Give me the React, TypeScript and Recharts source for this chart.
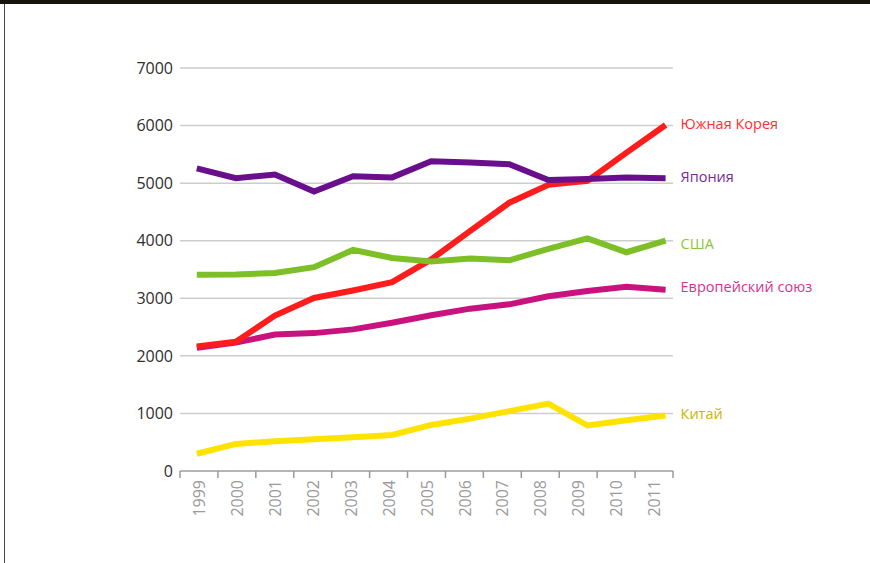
import { LineChart, Line, XAxis, YAxis, CartesianGrid } from 'recharts'

const YEARS = [1999, 2000, 2001, 2002, 2003, 2004, 2005, 2006, 2007, 2008, 2009, 2010, 2011]
const SOUTH_KOREA = [2165, 2245, 2700, 3005, 3135, 3280, 3675, 4170, 4660, 4970, 5040, 5530, 6010]
const JAPAN = [5255, 5085, 5150, 4855, 5120, 5100, 5380, 5360, 5330, 5055, 5070, 5100, 5085]
const USA = [3410, 3415, 3440, 3540, 3840, 3700, 3640, 3690, 3660, 3860, 4040, 3800, 4000]
const EU = [2140, 2230, 2370, 2395, 2460, 2575, 2705, 2820, 2895, 3035, 3125, 3200, 3150]
const CHINA = [300, 470, 515, 550, 585, 625, 800, 910, 1040, 1170, 790, 880, 965]
const Y_TICKS = [0, 1000, 2000, 3000, 4000, 5000, 6000, 7000]

const SERIES = [
  { key: 'eu', name: 'Европейский союз', values: EU, stroke: '#c8137f', text: '#d6338f', dy: -2.5 },
  { key: 'korea', name: 'Южная Корея', values: SOUTH_KOREA, stroke: '#ff1c1c', text: '#ff2f2f', dy: -1 },
  { key: 'usa', name: 'США', values: USA, stroke: '#7cbf27', text: '#8cc63e', dy: 3 },
  { key: 'japan', name: 'Япония', values: JAPAN, stroke: '#6a0f8c', text: '#7a2a92', dy: -1.5 },
  { key: 'china', name: 'Китай', values: CHINA, stroke: '#ffe300', text: '#c9b600', dy: -1.5 },
]

const data = YEARS.map((year, i) => {
  const row: Record<string, number | string> = { year: String(year), yearNum: year }
  SERIES.forEach((s) => { row[s.key] = s.values[i] })
  return row
})

// eslint-disable-next-line @typescript-eslint/no-explicit-any
const YearTick = (props: any) => {
  const { x, y, payload, index, visibleTicksCount } = props
  const half = payload && payload.offset > 5 ? payload.offset : 18.95
  const last = index === visibleTicksCount - 1
  const ty = y + 9
  return (
    <g>
      <line x1={x - half} x2={x - half} y1={y} y2={y + 7} stroke="#9a9a9a" strokeWidth={1.5} />
      {last && <line x1={x + half} x2={x + half} y1={y} y2={y + 7} stroke="#9a9a9a" strokeWidth={1.5} />}
      <text
        x={x}
        y={ty}
        transform={`rotate(-90, ${x}, ${ty})`}
        textAnchor="end"
        dy="0.38em"
        fill="#9a9a9a"
        fontSize={16}
      >
        {payload.value}
      </text>
    </g>
  )
}

const endLabel = (name: string, color: string, dy: number) =>
  // eslint-disable-next-line @typescript-eslint/no-explicit-any
  (props: any) => {
    const { cx, cy, index } = props
    if (index !== YEARS.length - 1) return null
    return (
      <text key={name} x={cx + 15} y={cy + dy} dy="0.36em" fill={color} fontSize={14.5}>
        {name}
      </text>
    )
  }

export default function App() {
  return (
    <div style={{ position: 'absolute', left: 0, top: 0, width: 870, height: 563, background: '#fff', fontFamily: '"Open Sans", sans-serif' }}>
      <div style={{ position: 'absolute', left: 0, top: 0 }}>
        <LineChart width={870} height={563} data={data} margin={{ top: 68, right: 197, bottom: 0, left: 0 }}>
          <CartesianGrid vertical={false} stroke="#cdcdcd" strokeWidth={1.5} />
          <XAxis
            xAxisId="band"
            dataKey="year"
            type="category"
            scale="band"
            height={92}
            axisLine={{ stroke: '#a8a8a8', strokeWidth: 1.5 }}
            tickLine={false}
            tickSize={0}
            tickMargin={0}
            interval={0}
            tick={<YearTick />}
          />
          <XAxis dataKey="yearNum" type="number" domain={[1998.57, 2011.19]} height={0} hide />
          <YAxis
            width={180}
            domain={[0, 7000]}
            ticks={Y_TICKS}
            axisLine={false}
            tickLine={false}
            tickSize={0}
            tickMargin={7}
            tick={{ fill: '#2e2e2e', fontSize: 16 }}
          />
          {SERIES.map((s) => (
            <Line
              key={s.key}
              dataKey={s.key}
              stroke={s.stroke}
              strokeWidth={6}
              dot={endLabel(s.name, s.text, s.dy)}
              activeDot={false}
              isAnimationActive={false}
            />
          ))}
        </LineChart>
      </div>
      <div style={{ position: 'absolute', left: 0, top: 0, width: 870, height: 4, background: '#16120c' }} />
      <div style={{ position: 'absolute', left: 4, top: 4, width: 1, height: 559, background: '#4a4a4a' }} />
    </div>
  )
}
